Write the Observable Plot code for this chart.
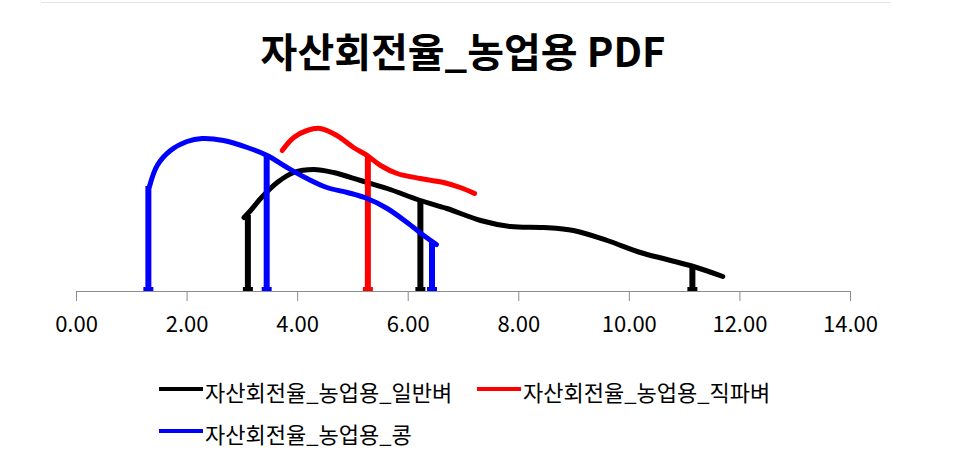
<!DOCTYPE html>
<html>
<head>
<meta charset="utf-8">
<script src="https://cdn.jsdelivr.net/npm/d3@7"></script>
<script src="https://cdn.jsdelivr.net/npm/@observablehq/plot@0.6"></script>
<style>
  html, body { margin: 0; padding: 0; background: #fff; }
  #wrap { position: relative; width: 963px; height: 470px; overflow: hidden; font-family: "Noto Sans CJK KR", sans-serif; }
  #topline { position: absolute; left: 41px; top: 2px; width: 850px; height: 0; border-top: 1px solid #e4e6ee; }
  #title { position: absolute; top: 25px; left: 463px; transform: translateX(-50%); font-size: 40px; font-weight: bold; white-space: nowrap; line-height: 50px; color: #000; }
  #chart { position: absolute; left: 0; top: 100px; }
  .leg { position: absolute; font-size: 22px; line-height: 26px; white-space: nowrap; color: #000; }
  .sw { position: absolute; height: 4px; width: 44px; }
</style>
</head>
<body>
<div id="wrap">
  <div id="topline"></div>
  <div id="title"></div>
  <div id="chart"></div>
  <div id="legend"></div>
</div>
<script>
// ---- data ----
const titleText = "자산회전율_농업용 PDF";
const seriesNames = ["자산회전율_농업용_일반벼", "자산회전율_농업용_직파벼", "자산회전율_농업용_콩"];
const seriesColors = ["#000000", "#ff0000", "#0000ff"];
const xTicks = [0, 2, 4, 6, 8, 10, 12, 14];

// 일반벼 (black)
const ilbanX = [3.03, 3.15, 3.33, 3.63, 3.93, 4.29, 4.65, 5.14, 5.62, 6.22, 6.70, 7.31, 7.85, 8.45, 8.99, 9.60, 10.20, 10.68, 11.16, 11.69];
const ilbanY = [0.074, 0.081, 0.093, 0.109, 0.119, 0.122, 0.119, 0.111, 0.103, 0.091, 0.083, 0.071, 0.065, 0.064, 0.061, 0.051, 0.039, 0.032, 0.025, 0.015];
const ilbanMarkX = [3.10, 6.22, 11.14];
const ilbanMarkY = [0.076, 0.091, 0.026];

// 직파벼 (red)
const jikpaX = [3.72, 3.93, 4.17, 4.41, 4.71, 5.01, 5.26, 5.50, 5.80, 6.22, 6.64, 6.94, 7.20];
const jikpaY = [0.141, 0.154, 0.161, 0.163, 0.156, 0.144, 0.136, 0.126, 0.118, 0.113, 0.109, 0.104, 0.098];
const jikpaMarkX = [5.27];
const jikpaMarkY = [0.136];

// 콩 (blue)
const kongX = [1.32, 1.46, 1.70, 2.00, 2.27, 2.66, 3.09, 3.45, 3.81, 4.17, 4.53, 4.90, 5.26, 5.62, 5.98, 6.28, 6.51];
const kongY = [0.105, 0.126, 0.141, 0.150, 0.153, 0.151, 0.144, 0.136, 0.124, 0.113, 0.104, 0.099, 0.093, 0.083, 0.069, 0.056, 0.047];
const kongMarkX = [1.30, 3.44, 6.43];
const kongMarkY = [0.105, 0.136, 0.049];

// ---- chart ----
document.getElementById("title").textContent = titleText;

const curves = [
  [ilbanX, ilbanY, ilbanMarkX, ilbanMarkY, seriesColors[0]],
  [jikpaX, jikpaY, jikpaMarkX, jikpaMarkY, seriesColors[1]],
  [kongX, kongY, kongMarkX, kongMarkY, seriesColors[2]]
];

const marks = [
  Plot.ruleY([0], {stroke: "#8c8c8c", strokeWidth: 1}),
  Plot.axisX({ticks: xTicks, tickFormat: d => d.toFixed(2), tickSize: 10, tickPadding: 15, stroke: "#8c8c8c", fill: "#000", label: null})
];
for (const [xs, ys, mx, my, c] of curves) {
  marks.push(Plot.line(xs, {x: xs, y: ys, stroke: c, strokeWidth: 5, curve: "catmull-rom", strokeLinecap: "round", strokeLinejoin: "round"}));
  marks.push(Plot.ruleX(mx, {x: mx, y1: 0, y2: my, stroke: c, strokeWidth: 6}));
  marks.push(Plot.ruleX(mx, {x: mx, y1: 0, y2: 0.004, stroke: c, strokeWidth: 10}));
}

const chart = Plot.plot({
  width: 963,
  height: 250,
  marginLeft: 76,
  marginRight: 113,
  marginTop: 20,
  marginBottom: 59,
  x: {domain: [0, 14]},
  y: {domain: [0, 0.171], axis: null},
  style: {fontSize: "22px", fontFamily: "'Noto Sans CJK KR', sans-serif", color: "#000", background: "transparent", overflow: "visible"},
  marks
});
document.getElementById("chart").appendChild(chart);

// ---- legend ----
const legend = document.getElementById("legend");
const legPos = [[159, 378], [477, 378], [159, 420]];
seriesNames.forEach((name, i) => {
  const [lx, ly] = legPos[i];
  const sw = document.createElement("div");
  sw.className = "sw";
  sw.style.left = lx + "px";
  sw.style.top = (ly + 9) + "px";
  sw.style.background = seriesColors[i];
  legend.appendChild(sw);
  const t = document.createElement("div");
  t.className = "leg";
  t.style.left = (lx + 46) + "px";
  t.style.top = ly + "px";
  t.textContent = name;
  legend.appendChild(t);
});
</script>
</body>
</html>
